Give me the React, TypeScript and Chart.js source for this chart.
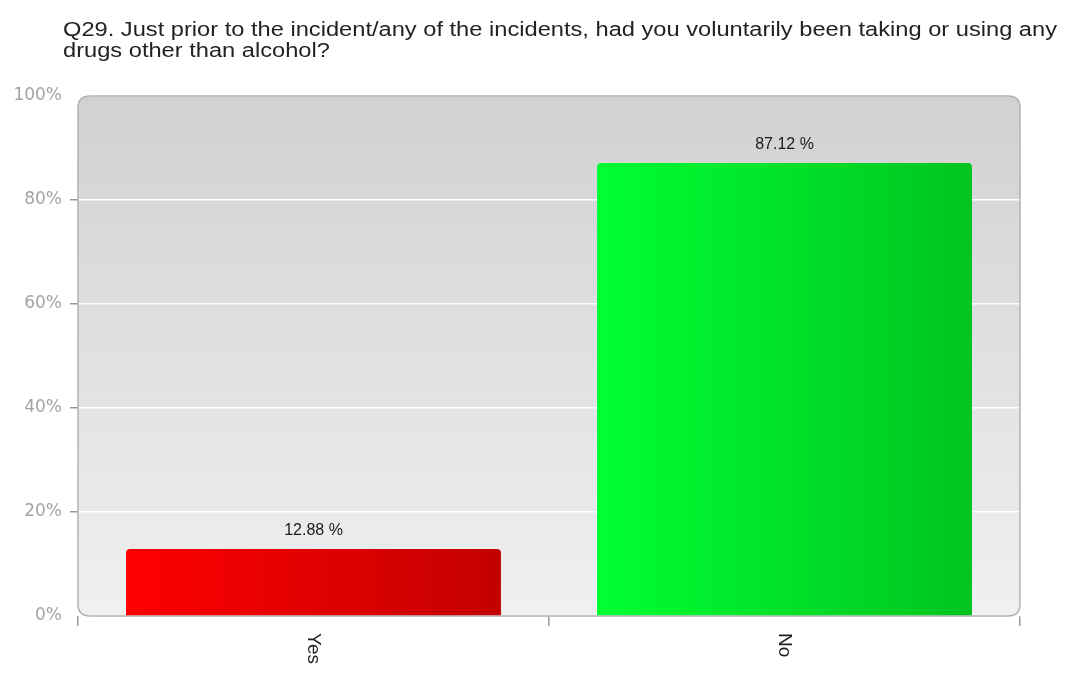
import React, { useEffect, useRef } from 'react';
import { Chart, registerables } from 'chart.js';

Chart.register(...registerables);

const TITLE_LINES = [
  'Q29. Just prior to the incident/any of the incidents, had you voluntarily been taking or using any',
  'drugs other than alcohol?',
];
const CATEGORIES = ['Yes', 'No'];
const VALUES = [12.88, 87.12];
const BAR_LEFT_COLORS = ['#ff0000', '#00ff33'];
const BAR_RIGHT_COLORS = ['#c30000', '#00c41f'];
const Y_MIN = 0;
const Y_MAX = 100;
const Y_STEP = 20;

const CAT_PCT = 0.796;
const FONT = '"Liberation Sans", Arial, sans-serif';

function roundRectPath(ctx: CanvasRenderingContext2D, x: number, y: number, w: number, h: number, r: number) {
  ctx.beginPath();
  ctx.moveTo(x + r, y);
  ctx.lineTo(x + w - r, y);
  ctx.quadraticCurveTo(x + w, y, x + w, y + r);
  ctx.lineTo(x + w, y + h - r);
  ctx.quadraticCurveTo(x + w, y + h, x + w - r, y + h);
  ctx.lineTo(x + r, y + h);
  ctx.quadraticCurveTo(x, y + h, x, y + h - r);
  ctx.lineTo(x, y + r);
  ctx.quadraticCurveTo(x, y, x + r, y);
  ctx.closePath();
}

const decorPlugin = {
  id: 'decor',
  beforeDraw(chart: any) {
    const { ctx, chartArea: a } = chart;
    if (!a) return;
    ctx.save();
    const g = ctx.createLinearGradient(0, a.top, 0, a.bottom);
    g.addColorStop(0, '#d1d1d1');
    g.addColorStop(1, '#f0f0f0');
    roundRectPath(ctx, a.left, a.top, a.right - a.left, a.bottom - a.top, 12);
    ctx.fillStyle = g;
    ctx.fill();
    ctx.restore();

    // title
    ctx.save();
    ctx.fillStyle = '#222222';
    ctx.font = '20px ' + FONT;
    ctx.textAlign = 'left';
    ctx.textBaseline = 'alphabetic';
    const w0 = ctx.measureText(TITLE_LINES[0]).width;
    const sx = 994 / w0;
    ctx.translate(63, 0);
    ctx.scale(sx, 1);
    TITLE_LINES.forEach((line, i) => {
      ctx.fillText(line, 0, 36 + i * 21);
    });
    ctx.restore();
  },
  beforeDatasetsDraw(chart: any) {
    const { ctx, chartArea: a } = chart;
    ctx.save();
    roundRectPath(ctx, a.left, a.top, a.right - a.left, a.bottom - a.top, 12);
    ctx.strokeStyle = '#b2b2b2';
    ctx.lineWidth = 1.5;
    ctx.stroke();
    ctx.restore();
  },
  afterDatasetsDraw(chart: any) {
    const { ctx } = chart;
    const meta = chart.getDatasetMeta(0);
    const xs = chart.scales.x;
    ctx.save();
    ctx.fillStyle = '#1a1a1a';
    ctx.font = '16px ' + FONT;
    ctx.textAlign = 'center';
    ctx.textBaseline = 'alphabetic';
    meta.data.forEach((bar: any, i: number) => {
      ctx.fillText(VALUES[i].toFixed(2) + ' %', bar.x, bar.y - 14);
    });
    ctx.restore();

    ctx.save();
    ctx.fillStyle = '#222222';
    ctx.font = '19px ' + FONT;
    ctx.textAlign = 'left';
    ctx.textBaseline = 'middle';
    CATEGORIES.forEach((label, i) => {
      const x = xs.getPixelForValue(i);
      ctx.save();
      ctx.translate(x, xs.top + 17);
      ctx.rotate(Math.PI / 2);
      ctx.fillText(label, 0, 0);
      ctx.restore();
    });
    ctx.restore();
  },
};

export default function App() {
  const ref = useRef<HTMLCanvasElement>(null);

  useEffect(() => {
    if (!ref.current) return;
    const chart = new Chart(ref.current, {
      type: 'bar',
      data: {
        labels: CATEGORIES,
        datasets: [
          {
            data: VALUES,
            backgroundColor: (c: any) => {
              const i = c.dataIndex;
              if (i === undefined) return BAR_LEFT_COLORS[0];
              const chartObj = c.chart;
              const xs = chartObj.scales.x;
              if (!xs || !chartObj.chartArea) return BAR_LEFT_COLORS[i];
              const cx = xs.getPixelForValue(i);
              const w = (xs.width / CATEGORIES.length) * CAT_PCT;
              const g = chartObj.ctx.createLinearGradient(cx - w / 2, 0, cx + w / 2, 0);
              g.addColorStop(0, BAR_LEFT_COLORS[i]);
              g.addColorStop(1, BAR_RIGHT_COLORS[i]);
              return g;
            },
            borderWidth: 0,
            borderRadius: { topLeft: 4, topRight: 4, bottomLeft: 0, bottomRight: 0 },
            borderSkipped: 'bottom',
            barPercentage: 1,
            categoryPercentage: CAT_PCT,
          } as any,
        ],
      },
      options: {
        animation: false,
        responsive: false,
        devicePixelRatio: 1,
        layout: { padding: { top: 96, right: 45, bottom: 0, left: 0 } },
        plugins: {
          legend: { display: false },
          title: { display: false },
          tooltip: { enabled: false },
        },
        scales: {
          x: {
            offset: true,
            border: { display: false },
            grid: {
              offset: true,
              drawOnChartArea: false,
              tickLength: 10,
              color: '#9a9a9a',
              lineWidth: 1.5,
            },
            ticks: { display: false },
            afterFit: (s: any) => {
              s.height = 57;
            },
          },
          y: {
            min: Y_MIN,
            max: Y_MAX,
            border: { display: false },
            grid: {
              color: '#ffffff',
              lineWidth: 1.5,
              tickLength: 8,
              tickColor: (c: any) =>
                c.tick && (c.tick.value === Y_MIN || c.tick.value === Y_MAX) ? 'rgba(0,0,0,0)' : '#9a9a9a',
            },
            ticks: {
              stepSize: Y_STEP,
              padding: 8,
              color: '#a3a3a3',
              font: { family: '"DejaVu Sans"', size: 17 },
              callback: (v: any) => v + '%',
            },
            afterFit: (s: any) => {
              s.width = 78;
            },
          },
        },
      },
      plugins: [decorPlugin],
    });
    return () => chart.destroy();
  }, []);

  return (
    <div style={{ position: 'fixed', left: 0, top: 0, width: 1065, height: 673, background: '#ffffff' }}>
      <canvas ref={ref} width={1065} height={673} style={{ display: 'block' }} />
    </div>
  );
}
